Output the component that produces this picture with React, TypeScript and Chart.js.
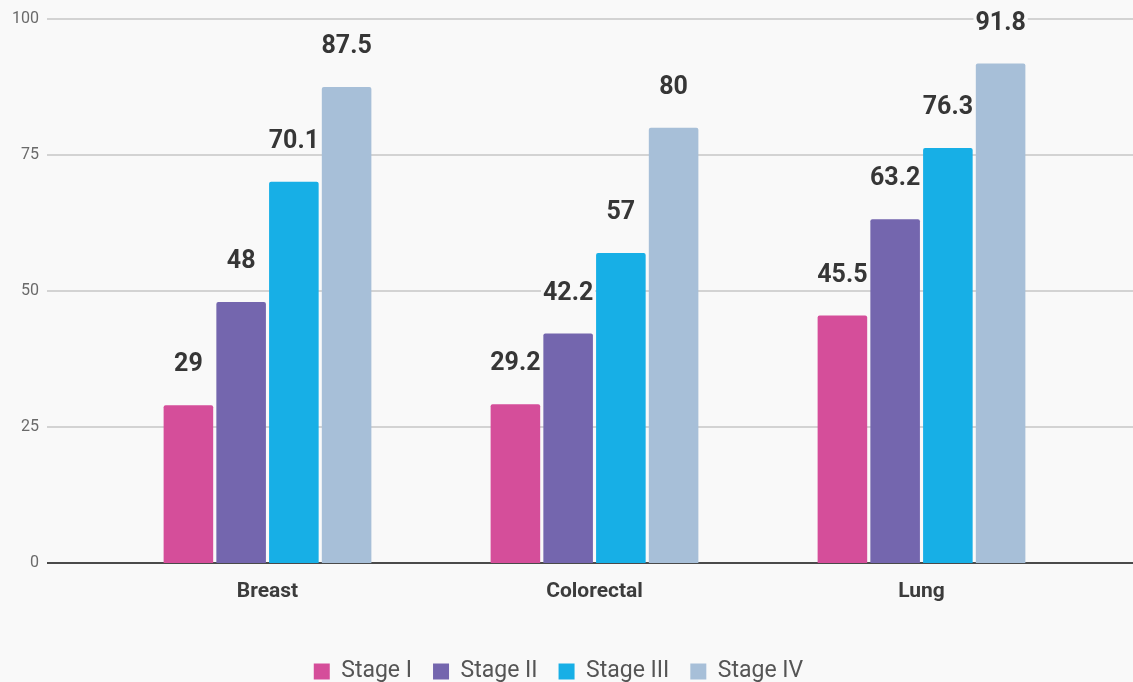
import React, { useEffect, useRef } from "react";
import { Chart, registerables } from "chart.js";

Chart.register(...registerables);

// Five-year survival by cancer type and stage
const categories = ["Breast", "Colorectal", "Lung"];
const stageNames = ["Stage I", "Stage II", "Stage III", "Stage IV"];
const stageI = [29, 29.2, 45.5];
const stageII = [48, 42.2, 63.2];
const stageIII = [70.1, 57, 76.3];
const stageIV = [87.5, 80, 91.8];
const yTicks = [0, 25, 50, 75, 100];

const stageColors = ["#d54e9a", "#7466ae", "#17afe6", "#a7bfd8"];
const BG = "#f9f9f9";
const FONT = "Roboto, 'Noto Sans', sans-serif";

const CANVAS_W = 1133;
const CANVAS_H = 693;

// Fill the page background behind everything
const backgroundPlugin = {
  id: "pageBackground",
  beforeDraw(chart: any) {
    const { ctx } = chart;
    ctx.save();
    ctx.fillStyle = BG;
    ctx.fillRect(0, 0, chart.width, chart.height);
    ctx.restore();
  },
};

// Nudge the legend row so it sits a little right of the canvas centre
const legendShiftPlugin = {
  id: "legendShift",
  afterLayout(chart: any) {
    const lg = chart.legend;
    if (lg) {
      lg.left += 16;
      lg.right += 16;
    }
  },
};

// Horizontal gridlines that run past the plot area to the canvas edge
const gridPlugin = {
  id: "wideGrid",
  beforeDatasetsDraw(chart: any) {
    const { ctx } = chart;
    const y = chart.scales.y;
    ctx.save();
    yTicks.forEach((v) => {
      const py = y.getPixelForValue(v);
      ctx.beginPath();
      if (v === 0) {
        ctx.strokeStyle = "#4a4a4a";
        ctx.lineWidth = 2;
      } else {
        ctx.strokeStyle = "#c6c6c6";
        ctx.lineWidth = 1.5;
      }
      ctx.moveTo(47, py);
      ctx.lineTo(chart.width, py);
      ctx.stroke();
    });
    ctx.restore();
  },
};

// Value labels floating above each bar, knocking out the gridline beneath
const valueLabelPlugin = {
  id: "valueLabels",
  afterDatasetsDraw(chart: any) {
    const { ctx } = chart;
    ctx.save();
    ctx.font = `bold 25px ${FONT}`;
    ctx.textAlign = "center";
    ctx.textBaseline = "middle";
    chart.data.datasets.forEach((ds: any, di: number) => {
      const meta = chart.getDatasetMeta(di);
      meta.data.forEach((bar: any, i: number) => {
        const text = String(ds.data[i]);
        const cx = bar.x;
        const cy = bar.y - 40;
        const w = ctx.measureText(text).width;
        ctx.fillStyle = BG;
        ctx.fillRect(cx - w / 2 - 2, cy - 10, w + 4, 20);
        ctx.fillStyle = "#363636";
        ctx.fillText(text, cx, cy);
      });
    });
    ctx.restore();
  },
};

export default function App() {
  const canvasRef = useRef<HTMLCanvasElement | null>(null);

  useEffect(() => {
    const canvas = canvasRef.current;
    if (!canvas) return;
    const series = [stageI, stageII, stageIII, stageIV];
    const chart = new Chart(canvas, {
      type: "bar",
      data: {
        labels: categories,
        datasets: series.map((values, i) => ({
          label: stageNames[i],
          data: values,
          backgroundColor: stageColors[i],
          borderWidth: 0,
          borderRadius: { topLeft: 2, topRight: 2, bottomLeft: 0, bottomRight: 0 },
          borderSkipped: "start",
          categoryPercentage: 0.645,
          barPercentage: 0.94,
        })),
      },
      options: {
        responsive: false,
        animation: false,
        devicePixelRatio: 1,
        layout: { padding: { top: 19, right: 48, left: 0, bottom: 0 } },
        plugins: {
          tooltip: { enabled: false },
          legend: {
            position: "bottom",
            labels: {
              boxWidth: 16,
              boxHeight: 16,
              padding: 21,
              color: "#555555",
              font: { family: FONT, size: 23 },
            },
          },
        },
        scales: {
          x: {
            grid: { display: false },
            border: { display: false },
            ticks: {
              padding: 8,
              color: "#3c3c3c",
              font: { family: FONT, size: 21, weight: "bold" },
            },
            afterFit(scale: any) {
              scale.height = 76;
            },
          },
          y: {
            min: 0,
            max: 100,
            weight: 1,
            grid: { display: false, drawTicks: false },
            border: { display: false },
            afterBuildTicks(scale: any) {
              scale.ticks = yTicks.map((v) => ({ value: v }));
            },
            ticks: {
              padding: 0,
              color: "#6a6a6a",
              font: { family: FONT, size: 16 },
            },
            afterFit(scale: any) {
              scale.width = 39;
            },
          },
          // empty gutter between the tick labels and the plot area
          gutter: {
            type: "linear",
            position: "left",
            weight: 0,
            display: true,
            grid: { display: false, drawTicks: false },
            border: { display: false },
            ticks: { display: false },
            afterFit(scale: any) {
              scale.width = 65;
            },
          },
        },
      },
      plugins: [backgroundPlugin, legendShiftPlugin, gridPlugin, valueLabelPlugin],
    } as any);
    return () => chart.destroy();
  }, []);

  return (
    <div
      style={{
        position: "fixed",
        left: 0,
        top: 0,
        width: CANVAS_W,
        height: 682,
        overflow: "hidden",
        background: BG,
      }}
    >
      <canvas
        ref={canvasRef}
        width={CANVAS_W}
        height={CANVAS_H}
        style={{ display: "block", width: CANVAS_W, height: CANVAS_H }}
      />
    </div>
  );
}
